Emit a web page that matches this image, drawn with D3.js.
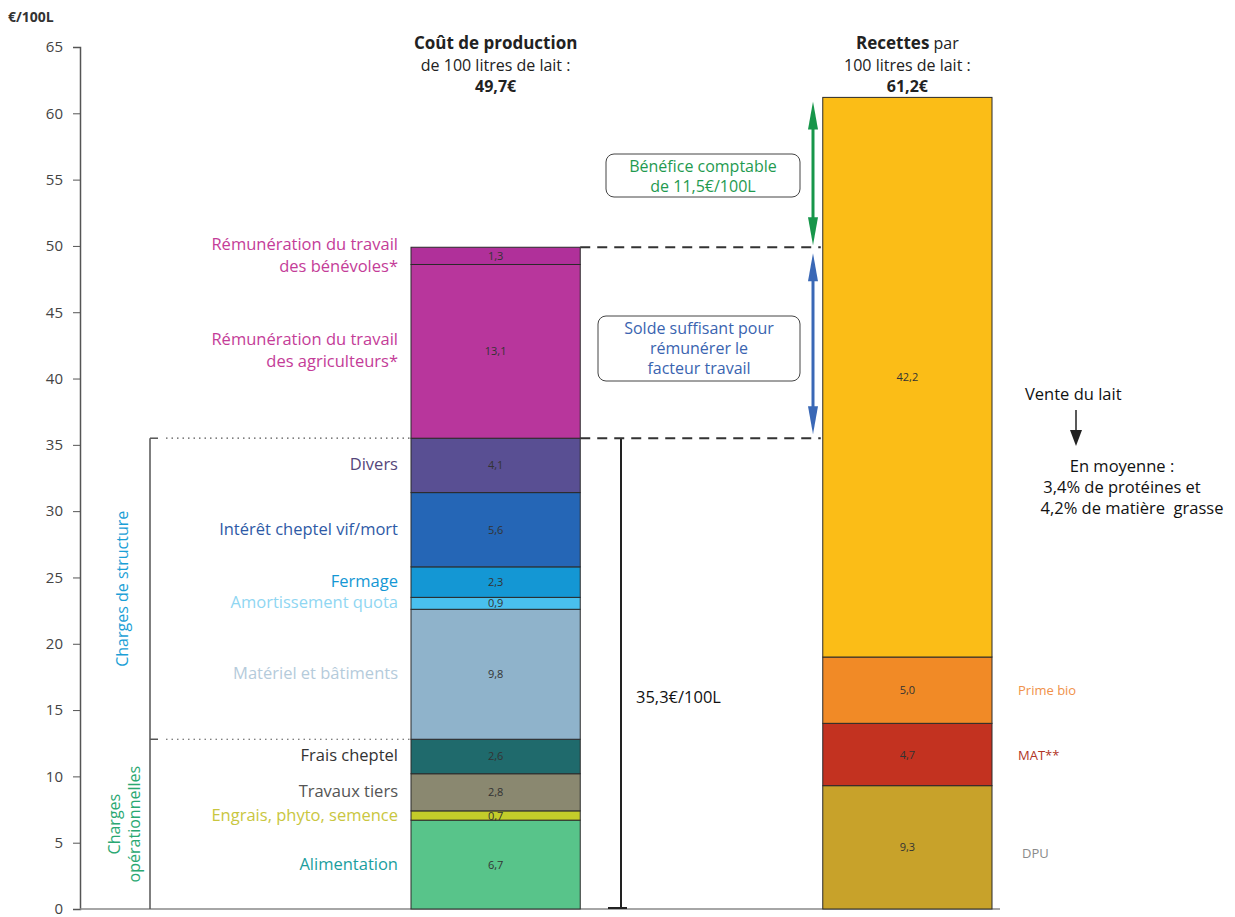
<!DOCTYPE html>
<meta charset="utf-8">
<head>
<script src="https://d3js.org/d3.v7.min.js"></script>
<style>
  body { margin: 0; background: #fff; font-family: "Open Sans", sans-serif; }
  svg text { font-family: "Open Sans", sans-serif; }
</style>
</head>
<body>
<div id="chart"></div>
<script>

  var width = 1235,
  height = 917;

  // cost of producing 100 L of milk, bottom to top
  var costCategories = ["Alimentation", "Engrais, phyto, semence", "Travaux tiers", "Frais cheptel",
    "Matériel et bâtiments", "Amortissement quota", "Fermage", "Intérêt cheptel vif/mort", "Divers",
    "Rémunération du travail|des agriculteurs*", "Rémunération du travail|des bénévoles*"];
  var costValues = [6.7, 0.7, 2.8, 2.6, 9.8, 0.9, 2.3, 5.6, 4.1, 13.1, 1.3];

  // revenue per 100 L, bottom to top
  var revenueCategories = ["DPU", "MAT**", "Prime bio", "Vente du lait"];
  var revenueValues = [9.3, 4.7, 5.0, 42.2];

  var yTicks = [0, 5, 10, 15, 20, 25, 30, 35, 40, 45, 50, 55, 60, 65];

  var costFill = ["#58c48a", "#c3cc2a", "#8a8870", "#1f6a6c", "#8fb3cb", "#49c0ee",
    "#1497d4", "#2566b6", "#594f93", "#b8369c", "#b0309a"];
  var costText = ["#1a9e9e", "#c9c640", "#555555", "#333333", "#b5cbdb", "#8fd6f2",
    "#1497d4", "#2e5aa6", "#55467a", "#c43c98", "#c43c98"];
  var revenueFill = ["#c8a22a", "#c33220", "#f18a26", "#fbbd17"];
  var revenueText = ["#8a8a8a", "#b03424", "#f0914a", "#222"];

  var svg = d3.select("#chart").append("svg")
  .attr("width", width)
  .attr("height", height);

  var y = d3.scaleLinear().domain([0, 65]).range([909, 47]);
  var x = d3.scaleBand().domain(["cost", "revenue"]).range([411, 992]).paddingInner(0.589);

  function fr(v) { return v.toFixed(1).replace(".", ","); }

  function stack(values) {
    var acc = 0;
    return values.map(function(v, i) {
      var d = {i: i, v: v, y0: acc, y1: acc + v};
      acc += v;
      return d;
    });
  }

  var costStack = stack(costValues);
  var revStack = stack(revenueValues);

  // y axis
  var axis = svg.append("g")
  .attr("transform", "translate(80,0)")
  .call(d3.axisLeft(y).tickValues(yTicks).tickSize(7).tickPadding(10));
  axis.select(".domain").attr("stroke", "#555").attr("stroke-width", 1.5);
  axis.selectAll(".tick line").attr("stroke", "#555");
  axis.selectAll(".tick text").attr("font-size", 15).attr("fill", "#444")
  .style("font-family", "Open Sans");

  svg.append("text").attr("x", 8).attr("y", 22).attr("font-size", 14)
  .attr("font-weight", "bold").attr("fill", "#333").text("€/100L");

  // baseline
  svg.append("line").attr("x1", 80).attr("x2", 1000).attr("y1", y(0)).attr("y2", y(0))
  .attr("stroke", "#888").attr("stroke-width", 1.5);

  // cost bar
  svg.append("g").selectAll("rect").data(costStack).enter().append("rect")
  .attr("x", x("cost")).attr("width", x.bandwidth())
  .attr("y", function(d) { return y(d.y1); })
  .attr("height", function(d) { return y(d.y0) - y(d.y1); })
  .attr("fill", function(d) { return costFill[d.i]; })
  .attr("stroke", "#2a2a2a").attr("stroke-width", 1);

  svg.append("g").selectAll("text").data(costStack).enter().append("text")
  .attr("x", x("cost") + x.bandwidth() / 2)
  .attr("y", function(d) { return y((d.y0 + d.y1) / 2) + 4; })
  .attr("text-anchor", "middle").attr("font-size", 11).attr("fill", "#333")
  .text(function(d) { return fr(d.v); });

  // cost labels on the left
  var costLab = svg.append("g").selectAll("text").data(costStack).enter().append("text")
  .attr("text-anchor", "end").attr("font-size", 16.5)
  .attr("fill", function(d) { return costText[d.i]; })
  .attr("y", function(d) {
    var n = costCategories[d.i].split("|").length;
    return y((d.y0 + d.y1) / 2) + 5 - (n - 1) * 11;
  });
  costLab.selectAll("tspan").data(function(d) { return costCategories[d.i].split("|"); })
  .enter().append("tspan").attr("x", 398).attr("dy", function(t, j) { return j ? 22 : 0; })
  .text(function(t) { return t; });

  // revenue bar
  svg.append("g").selectAll("rect").data(revStack).enter().append("rect")
  .attr("x", x("revenue")).attr("width", x.bandwidth())
  .attr("y", function(d) { return y(d.y1); })
  .attr("height", function(d) { return y(d.y0) - y(d.y1); })
  .attr("fill", function(d) { return revenueFill[d.i]; })
  .attr("stroke", "#2a2a2a").attr("stroke-width", 1);

  svg.append("g").selectAll("text").data(revStack).enter().append("text")
  .attr("x", x("revenue") + x.bandwidth() / 2)
  .attr("y", function(d) { return y((d.y0 + d.y1) / 2) + 4; })
  .attr("text-anchor", "middle").attr("font-size", 11).attr("fill", "#333")
  .text(function(d) { return fr(d.v); });

  svg.append("g").selectAll("text").data(revStack.slice(0, 3)).enter().append("text")
  .attr("x", function(d) { return d.i == 0 ? 1022 : 1018; })
  .attr("y", function(d) { return y((d.y0 + d.y1) / 2) + 5 + (d.i == 0 ? 6 : 0); })
  .attr("font-size", 13)
  .attr("fill", function(d) { return revenueText[d.i]; })
  .text(function(d) { return revenueCategories[d.i]; });

  // headers
  var costTotal = d3.sum(costValues), revTotal = d3.sum(revenueValues);
  var cx = x("cost") + x.bandwidth() / 2, rx = x("revenue") + x.bandwidth() / 2;
  var h = svg.append("g").attr("font-size", 16).attr("fill", "#222").attr("text-anchor", "middle");
  h.append("text").attr("x", cx).attr("y", 49).attr("font-weight", "bold").attr("font-size", 17).text("Coût de production");
  h.append("text").attr("x", cx).attr("y", 71).text("de 100 litres de lait :");
  h.append("text").attr("x", cx).attr("y", 92).attr("font-weight", "bold").text("49,7€");
  var r1 = h.append("text").attr("x", rx).attr("y", 49);
  r1.append("tspan").attr("font-weight", "bold").attr("font-size", 17).text("Recettes");
  r1.append("tspan").text(" par");
  h.append("text").attr("x", rx).attr("y", 71).text("100 litres de lait :");
  h.append("text").attr("x", rx).attr("y", 92).attr("font-weight", "bold").text(fr(revTotal) + "€");

  // structure / operational brackets on the left
  var structTop = costStack[8].y1, opTop = costStack[3].y1;
  svg.append("line").attr("x1", 150).attr("x2", 150).attr("y1", y(structTop)).attr("y2", y(0))
  .attr("stroke", "#555").attr("stroke-width", 1.5);
  [structTop, opTop].forEach(function(v) {
    svg.append("line").attr("x1", 150).attr("x2", 158).attr("y1", y(v)).attr("y2", y(v))
    .attr("stroke", "#555").attr("stroke-width", 1.5);
    svg.append("line").attr("x1", 166).attr("x2", x("cost")).attr("y1", y(v)).attr("y2", y(v))
    .attr("stroke", "#555").attr("stroke-width", 1.2).attr("stroke-dasharray", "1.5,4");
  });
  svg.append("text").attr("transform", "translate(128," + y((opTop + structTop) / 2) + ") rotate(-90)")
  .attr("text-anchor", "middle").attr("font-size", 16).attr("fill", "#1aa0d6").text("Charges de structure");
  var op = svg.append("text").attr("transform", "translate(120," + y(opTop / 2) + ") rotate(-90)")
  .attr("text-anchor", "middle").attr("font-size", 16).attr("fill", "#2aa872");
  op.append("tspan").attr("x", 0).attr("dy", 0).text("Charges");
  op.append("tspan").attr("x", 0).attr("dy", 20).text("opérationnelles");

  // bracket on the right of the cost bar
  svg.append("line").attr("x1", 621).attr("x2", 621).attr("y1", y(structTop)).attr("y2", y(0))
  .attr("stroke", "#222").attr("stroke-width", 2);
  svg.append("line").attr("x1", 608).attr("x2", 627).attr("y1", y(0) - 1).attr("y2", y(0) - 1)
  .attr("stroke", "#222").attr("stroke-width", 2);
  svg.append("text").attr("x", 636).attr("y", 703).attr("font-size", 16.5).attr("fill", "#111")
  .text("35,3€/100L");

  // dashed guides
  [costTotal, structTop].forEach(function(v) {
    svg.append("line").attr("x1", x("cost") + x.bandwidth()).attr("x2", x("revenue") - 2)
    .attr("y1", y(v)).attr("y2", y(v))
    .attr("stroke", "#333").attr("stroke-width", 2).attr("stroke-dasharray", "10,7");
  });

  // double arrows
  function dblArrow(x0, a, b, col) {
    var g = svg.append("g");
    g.append("line").attr("x1", x0).attr("x2", x0).attr("y1", a + 14).attr("y2", b - 14)
    .attr("stroke", col).attr("stroke-width", 3);
    g.append("path").attr("d", "M" + x0 + "," + a + "L" + (x0 - 5) + "," + (a + 28) + "L" + (x0 + 5) + "," + (a + 28) + "Z")
    .attr("fill", col);
    g.append("path").attr("d", "M" + x0 + "," + b + "L" + (x0 - 5) + "," + (b - 28) + "L" + (x0 + 5) + "," + (b - 28) + "Z")
    .attr("fill", col);
  }
  dblArrow(813, y(revTotal) + 4, y(costTotal) - 2, "#17964a");
  dblArrow(813, y(costTotal) + 6, y(structTop) - 4, "#3a68b6");

  // annotation boxes
  function box(x0, y0, w, hh, lines, col) {
    svg.append("rect").attr("x", x0).attr("y", y0).attr("width", w).attr("height", hh)
    .attr("rx", 8).attr("fill", "#fff").attr("stroke", "#444").attr("stroke-width", 1);
    lines.forEach(function(t, j) {
      svg.append("text").attr("x", x0 + w / 2).attr("y", y0 + 18 + j * 20)
      .attr("text-anchor", "middle").attr("font-size", 16).attr("fill", col).text(t);
    });
  }
  box(606, 154, 194, 43, ["Bénéfice comptable", "de 11,5€/100L"], "#1f9a50");
  box(598, 316, 202, 65, ["Solde suffisant pour", "rémunérer le", "facteur travail"], "#3a64b0");

  // milk sale note
  svg.append("text").attr("x", 1025).attr("y", 400).attr("font-size", 16.5).attr("fill", "#111")
  .text("Vente du lait");
  svg.append("line").attr("x1", 1076).attr("x2", 1076).attr("y1", 410).attr("y2", 432)
  .attr("stroke", "#222").attr("stroke-width", 1.5);
  svg.append("path").attr("d", "M1076,446L1070,430L1082,430Z").attr("fill", "#222");
  var note = svg.append("text").attr("text-anchor", "middle").attr("font-size", 16.5).attr("fill", "#111");
  ["En moyenne :", "3,4% de protéines et", "4,2% de matière  grasse"].forEach(function(t, j) {
    note.append("tspan").attr("x", j == 2 ? 1132 : 1122).attr("y", 472 + j * 21)
    .attr("xml:space", "preserve").text(t);
  });

</script>
</body>
